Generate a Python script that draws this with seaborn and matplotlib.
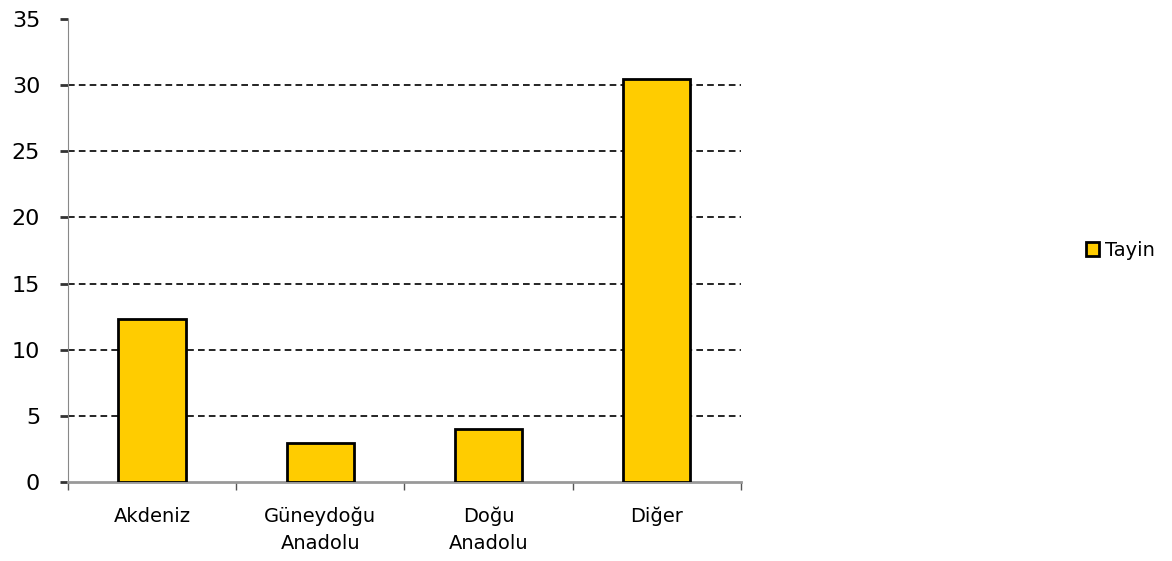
import pandas as pd
import seaborn as sns
import matplotlib.pyplot as plt

regions = ['Akdeniz', 'Güneydoğu\nAnadolu', 'Doğu\nAnadolu', 'Diğer']
tayin = [12.3, 2.95, 4.0, 30.45]
series = 'Tayin'

df = pd.DataFrame({'region': regions, 'value': tayin, 'series': series})

sns.set_style('ticks')
plt.rcParams['font.family'] = ['DejaVu Sans']
plt.rcParams['text.color'] = 'black'
plt.rcParams['xtick.color'] = 'black'
plt.rcParams['ytick.color'] = 'black'

fig = plt.figure(figsize=(11.72, 5.61), dpi=100)
ax = fig.add_axes([0.058, 0.141, 0.574, 0.825])

sns.barplot(data=df, x='region', y='value', hue='series', palette=['#ffcc00'],
            saturation=1, edgecolor='black', linewidth=2, width=0.4, ax=ax, zorder=3)

ax.set_ylim(0, 35)
ax.set_xlim(-0.5, 3.5)
ax.set_yticks(range(0, 36, 5))
ax.tick_params(axis='y', labelsize=16, length=6, width=2, color='#333333', pad=14,
               direction='out')
ax.tick_params(axis='x', which='major', labelsize=14, length=0, pad=18)
ax.set_xticks([-0.5, 0.5, 1.5, 2.5, 3.5], minor=True)
ax.tick_params(axis='x', which='minor', length=6, width=1, color='#555555', direction='out')
for lab in ax.get_xticklabels():
    lab.set_linespacing(1.5)
ax.set_xlabel('')
ax.set_ylabel('')

for v in range(5, 35, 5):
    ax.axhline(v, color='black', linestyle=(0, (4, 2.5)), linewidth=1.2, zorder=1)

sns.despine(ax=ax)
ax.spines['left'].set_color('#888888')
ax.spines['bottom'].set_color('#999999')
ax.spines['bottom'].set_linewidth(2)

leg = ax.legend(loc='center left', bbox_to_anchor=(1.487, 0.5), frameon=False,
                fontsize=14, handlelength=0.7, handleheight=0.7, handletextpad=0.3)

fig.savefig('out.png', dpi=100)
